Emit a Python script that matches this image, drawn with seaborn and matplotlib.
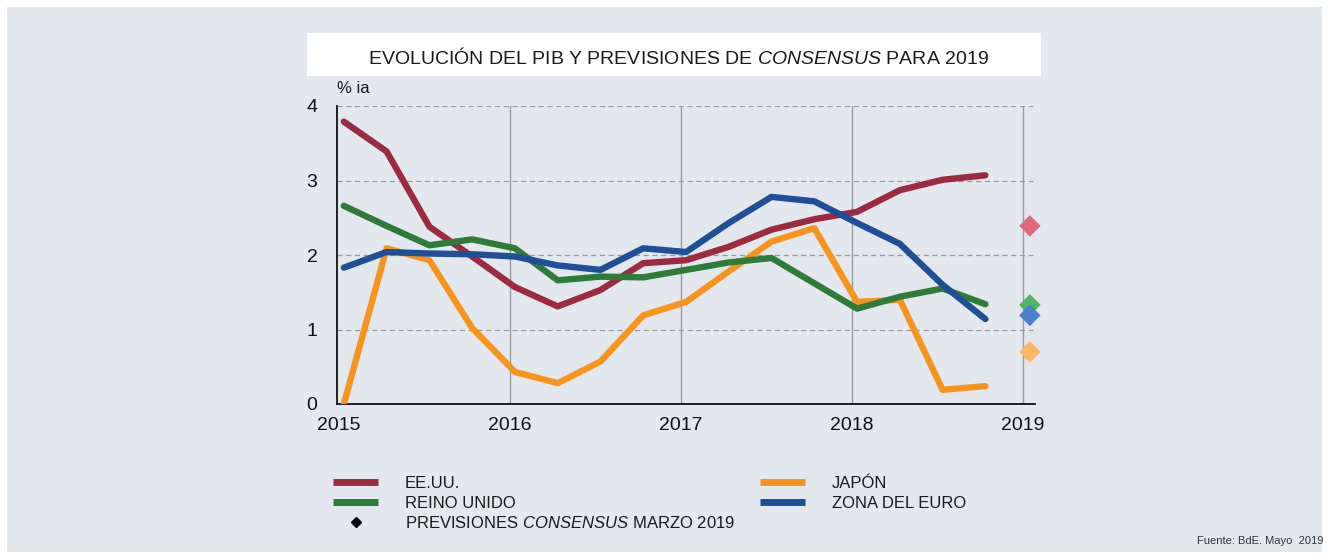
import numpy as np
import pandas as pd
import matplotlib.pyplot as plt
import matplotlib.patches as mpatches
from matplotlib.lines import Line2D
import seaborn as sns

# ----------------- Data -----------------
quarters = [f"{y}T{q}" for y in range(2015, 2019) for q in range(1, 5)]
eeuu = [3.79, 3.39, 2.38, 1.98, 1.57, 1.31, 1.53, 1.89, 1.93, 2.11, 2.34, 2.48, 2.58, 2.87, 3.01, 3.07]
japon = [0.00, 2.09, 1.93, 1.02, 0.43, 0.28, 0.57, 1.19, 1.37, 1.78, 2.18, 2.36, 1.37, 1.40, 0.19, 0.24]
reino_unido = [2.66, 2.39, 2.13, 2.21, 2.09, 1.66, 1.71, 1.70, 1.80, 1.90, 1.96, 1.62, 1.28, 1.44, 1.55, 1.34]
zona_euro = [1.83, 2.04, 2.02, 2.01, 1.98, 1.86, 1.80, 2.09, 2.04, 2.43, 2.78, 2.72, 2.43, 2.15, 1.60, 1.14]

# Consensus forecasts for 2019
prev_series = ["EE.UU.", "JAPÓN", "REINO UNIDO", "ZONA DEL EURO"]
prev_values = [2.39, 0.70, 1.33, 1.19]

series_names = ["EE.UU.", "JAPÓN", "REINO UNIDO", "ZONA DEL EURO"]
line_colors = ["#9c2a40", "#f7941d", "#2e7b3a", "#1f4f96"]
diamond_colors = ["#e06a7c", "#fbb860", "#4cb862", "#4a80cc"]

# x position of each quarter in years
def quarter_pos(label):
    y, q = label.split("T")
    return int(y) + 0.03 + 0.25 * (int(q) - 1)

df = pd.DataFrame({"trimestre": quarters, "EE.UU.": eeuu, "JAPÓN": japon,
                   "REINO UNIDO": reino_unido, "ZONA DEL EURO": zona_euro})
df["x"] = df["trimestre"].map(quarter_pos)
long_df = df.melt(id_vars=["trimestre", "x"], value_vars=series_names,
                  var_name="serie", value_name="valor")
prev_df = pd.DataFrame({"serie": prev_series, "valor": prev_values, "x": 2019.04})

# ----------------- Plot -----------------
sns.set_theme(style="white")
plt.rcParams["font.family"] = ["Liberation Sans", "DejaVu Sans"]
plt.rcParams["mathtext.fontset"] = "custom"
plt.rcParams["mathtext.it"] = "Liberation Sans:italic"
plt.rcParams["mathtext.rm"] = "Liberation Sans"

bg = "#e3e8ef"
txt = "#1a1a1a"
fig = plt.figure(figsize=(13.29, 5.57), dpi=100)
fig.patch.set_facecolor("white")
fig.patches.append(mpatches.Rectangle((7 / 1329, 5 / 557), 1315 / 1329, 545 / 557,
                                      transform=fig.transFigure, facecolor=bg,
                                      edgecolor="none", zorder=-10))
# title box
fig.patches.append(mpatches.Rectangle((307 / 1329, 1 - 76 / 557), 734 / 1329, 43 / 557,
                                      transform=fig.transFigure, facecolor="white",
                                      edgecolor="none", zorder=-5))
fig.text(678 / 1329, 1 - 57 / 557,
         r"EVOLUCIÓN DEL PIB Y PREVISIONES DE $\it{CONSENSUS}$ PARA 2019",
         ha="center", va="center", fontsize=14, color=txt)

ax = fig.add_axes([337 / 1329, 1 - 404 / 557, 698 / 1329, 298 / 557])
ax.set_facecolor(bg)

sns.lineplot(data=long_df, x="x", y="valor", hue="serie", hue_order=series_names,
             palette=line_colors, linewidth=4.6, ax=ax, legend=False, zorder=3)
sns.scatterplot(data=prev_df, x="x", y="valor", hue="serie", hue_order=prev_series,
                palette=diamond_colors, marker="D", s=120, linewidth=0, ax=ax,
                legend=False, zorder=4, clip_on=False)

ax.set_xlim(2014.99, 2019.07)
ax.set_ylim(0, 4)
ax.set_xticks([2015, 2016, 2017, 2018, 2019])
ax.set_yticks([0, 1, 2, 3, 4])
ax.set_xlabel("")
ax.set_ylabel("")
for y in [1, 2, 3, 4]:
    ax.axhline(y, color="#9a9a9a", linestyle=(0, (4, 3)), linewidth=0.9, zorder=1)
for x in [2016, 2017, 2018, 2019]:
    ax.axvline(x, color="#9a9a9a", linewidth=1.0, zorder=1)
for s in ["top", "right"]:
    ax.spines[s].set_visible(False)
for s in ["left", "bottom"]:
    ax.spines[s].set_color("#111111")
    ax.spines[s].set_linewidth(1.3)
ax.tick_params(axis="both", direction="in", length=7, width=1.2, color="#111111",
               labelsize=14, labelcolor="#111111")
ax.tick_params(axis="y", pad=14)
ax.tick_params(axis="x", pad=9)
ax.text(0.0, 1.035, "% ia", transform=ax.transAxes, fontsize=12, color=txt,
        ha="left", va="bottom")

# legend
handles = [
    Line2D([], [], color=line_colors[0], linewidth=5, solid_capstyle="butt"),
    Line2D([], [], color=line_colors[2], linewidth=5, solid_capstyle="butt"),
    Line2D([], [], color="black", marker="D", markersize=5, linestyle="none"),
    Line2D([], [], color=line_colors[1], linewidth=5, solid_capstyle="butt"),
    Line2D([], [], color=line_colors[3], linewidth=5, solid_capstyle="butt"),
]
labels = ["EE.UU.", "REINO UNIDO", r"PREVISIONES $\it{CONSENSUS}$ MARZO 2019",
          "JAPÓN", "ZONA DEL EURO"]
fig.legend(handles, labels, ncol=2, loc="upper left",
           bbox_to_anchor=(333 / 1329, 1 - 476 / 557), frameon=False,
           fontsize=12, handlelength=2.7, handletextpad=1.6, labelspacing=0.27,
           columnspacing=1.5, borderpad=0, borderaxespad=0, labelcolor=txt)

fig.text(1323 / 1329, 1 - 541 / 557, "Fuente: BdE. Mayo  2019", ha="right",
         va="center", fontsize=8, color="#333333")
fig.savefig("out.png", dpi=100)
